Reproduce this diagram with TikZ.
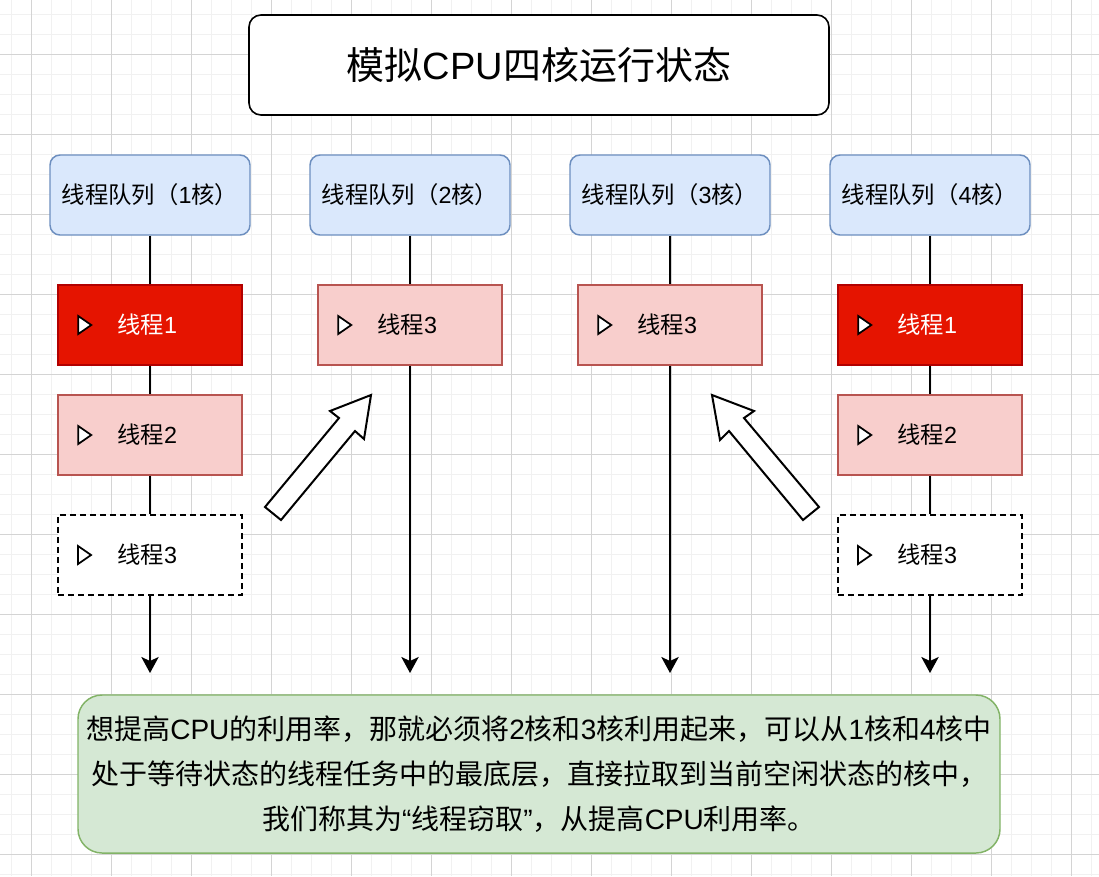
\documentclass[tikz,border=0pt]{standalone}
\usepackage{fontspec}
\setmainfont{Noto Sans CJK SC}
\newfontfamily\latf{Liberation Sans}
\newcommand{\Lt}[1]{{\latf #1}}
\usetikzlibrary{arrows.meta}
\definecolor{gridminor}{HTML}{F1F1F1}
\definecolor{gridmajor}{HTML}{D4D4D4}
\definecolor{redfill}{HTML}{E51400}
\definecolor{redline}{HTML}{B20000}
\definecolor{pinkfill}{HTML}{F8CECC}
\definecolor{pinkline}{HTML}{B85450}
\definecolor{bluefill}{HTML}{DAE8FC}
\definecolor{blueline}{HTML}{6C8EBF}
\definecolor{greenfill}{HTML}{D5E8D4}
\definecolor{greenline}{HTML}{82B366}
\newcommand{\threadmark}[1]{\draw[markline] ([shift={(21,-9)}]#1.west) -- ([shift={(21,9)}]#1.west) -- ([shift={(34,0)}]#1.west) -- cycle;}
\begin{document}
\begin{tikzpicture}[x=0.75pt,y=-0.75pt,
  titlebox/.style={draw=black,line width=1.2pt,rounded corners=9pt,fill=white,
    minimum width=435pt,minimum height=75pt,inner sep=0pt,
    font=\fontsize{28.5pt}{34pt}\selectfont},
  headbox/.style={draw=blueline,fill=bluefill,line width=1.1pt,rounded corners=7.5pt,
    minimum width=150pt,minimum height=60pt,inner sep=0pt,
    font=\fontsize{17.5pt}{21pt}\selectfont},
  threadbase/.style={line width=1.1pt,minimum width=138pt,minimum height=60pt,inner sep=0pt,
    font=\fontsize{17.5pt}{21pt}\selectfont},
  runbox/.style={threadbase,draw=redline,fill=redfill,text=white},
  waitbox/.style={threadbase,draw=pinkline,fill=pinkfill},
  idlebox/.style={threadbase,draw=black,fill=white,dash pattern=on 4.5pt off 3pt,line width=1.4pt},
  notebox/.style={draw=greenline,fill=greenfill,line width=1.1pt,rounded corners=18pt,
    minimum width=691.5pt,minimum height=118.5pt,inner sep=0pt,align=center,
    font=\fontsize{21pt}{33.75pt}\selectfont},
  conn/.style={draw=black,line width=1.5pt},
  connarrow/.style={conn,-{Stealth[length=12pt,width=13pt,inset=3pt]}},
  markline/.style={draw=black,fill=white,line width=1.3pt,line join=miter},
  blockarrow/.style={draw=black,fill=white,line width=1.5pt,line join=miter}]
\useasboundingbox (0,0) rectangle (1099,876);
\fill[white] (0,0) rectangle (1099,876);
\foreach \x in {11,31,...,1099} \draw[gridminor,line width=0.75pt] (\x,0) -- (\x,876);
\foreach \y in {14,34,...,876} \draw[gridminor,line width=0.75pt] (0,\y) -- (1099,\y);
\foreach \x in {31,111,...,1099} \draw[gridmajor,line width=0.75pt] (\x,0) -- (\x,876);
\foreach \y in {54,134,...,876} \draw[gridmajor,line width=0.75pt] (0,\y) -- (1099,\y);

\node[titlebox] (title) at (539,65) {模拟\Lt{CPU}四核运行状态};

\node[headbox] (h1) at (150,195) {线程队列（\Lt{1}核）};
\node[headbox] (h2) at (410,195) {线程队列（\Lt{2}核）};
\node[headbox] (h3) at (670,195) {线程队列（\Lt{3}核）};
\node[headbox] (h4) at (930,195) {线程队列（\Lt{4}核）};

\node[runbox] (a1) at (150,325) {\hspace{-4pt}线程\Lt{1}};
\node[waitbox] (b1) at (150,435) {\hspace{-4pt}线程\Lt{2}};
\node[idlebox] (c1) at (150,555) {\hspace{-4pt}线程\Lt{3}};
\node[waitbox] (a2) at (410,325) {\hspace{-4pt}线程\Lt{3}};
\node[waitbox] (a3) at (670,325) {\hspace{-4pt}线程\Lt{3}};
\node[runbox] (a4) at (930,325) {\hspace{-4pt}线程\Lt{1}};
\node[waitbox] (b4) at (930,435) {\hspace{-4pt}线程\Lt{2}};
\node[idlebox] (c4) at (930,555) {\hspace{-4pt}线程\Lt{3}};

\coordinate (e1) at (150,673);
\coordinate (e2) at (410,673);
\coordinate (e3) at (670,673);
\coordinate (e4) at (930,673);

\draw[conn] (h1) -- (a1);
\draw[conn] (a1) -- (b1);
\draw[conn] (b1) -- (c1);
\draw[connarrow] (c1) -- (e1);
\draw[conn] (h2) -- (a2);
\draw[connarrow] (a2) -- (e2);
\draw[conn] (h3) -- (a3);
\draw[connarrow] (a3) -- (e3);
\draw[conn] (h4) -- (a4);
\draw[conn] (a4) -- (b4);
\draw[conn] (b4) -- (c4);
\draw[connarrow] (c4) -- (e4);

\threadmark{a1}
\threadmark{b1}
\threadmark{c1}
\threadmark{a2}
\threadmark{a3}
\threadmark{a4}
\threadmark{b4}
\threadmark{c4}

\draw[blockarrow] (265,507) -- (339,418) -- (330,411) -- (371,395) -- (364,439) -- (355,431) -- (281,520) -- cycle;
\draw[blockarrow] (712,395) -- (754,411) -- (744,418) -- (819,507) -- (803,520) -- (729,431) -- (720,440) -- cycle;

\node[notebox] (note) at (539,774) {想提高\Lt{CPU}的利用率，那就必须将\Lt{2}核和\Lt{3}核利用起来，可以从\Lt{1}核和\Lt{4}核中\\
处于等待状态的线程任务中的最底层，直接拉取到当前空闲状态的核中，\\
我们称其为\Lt{“}线程窃取\Lt{”}，从提高\Lt{CPU}利用率。};
\end{tikzpicture}
\end{document}
